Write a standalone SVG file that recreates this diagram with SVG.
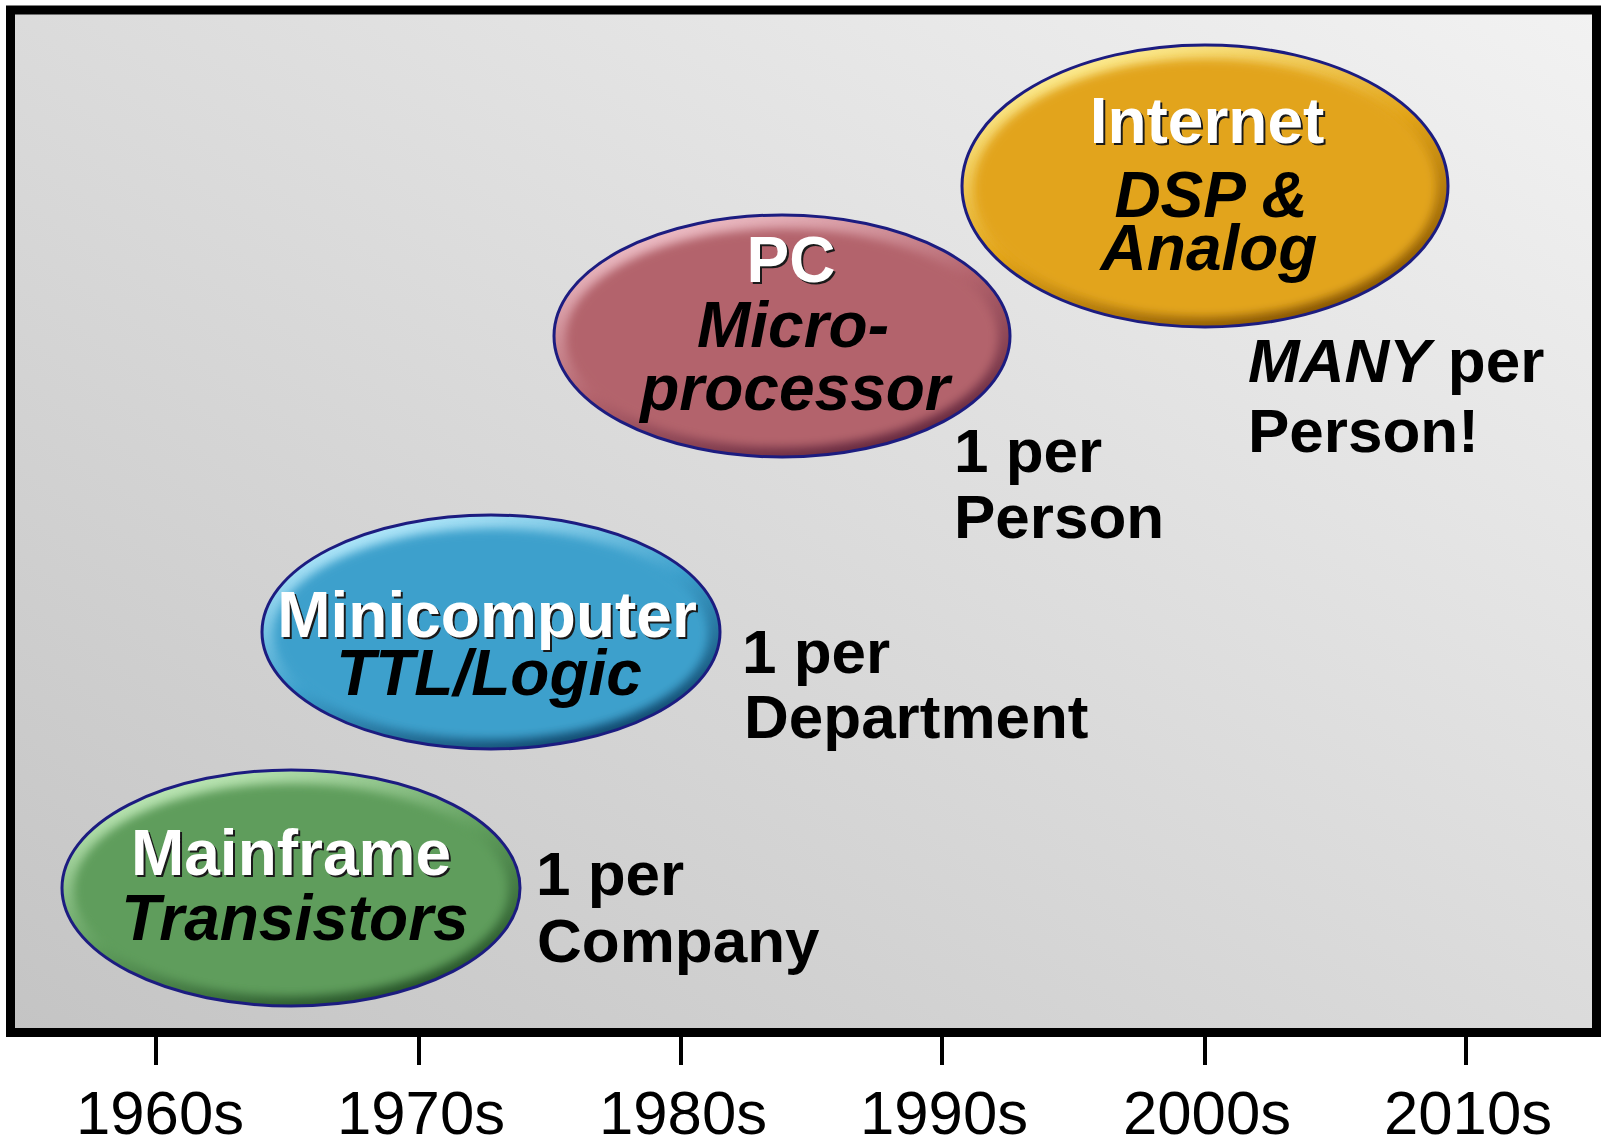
<svg xmlns="http://www.w3.org/2000/svg" width="1601" height="1148" viewBox="0 0 1601 1148">
  <defs>
    <linearGradient id="bg" x1="1" y1="0" x2="0" y2="1">
      <stop offset="0" stop-color="#f2f2f2"/>
      <stop offset="1" stop-color="#c4c4c4"/>
    </linearGradient>
    <linearGradient id="rimG" x1="0.2" y1="0" x2="0.8" y2="1">
      <stop offset="0" stop-color="#c8f0c0"/>
      <stop offset="0.5" stop-color="#5f9d5c"/>
      <stop offset="1" stop-color="#1f4a22"/>
    </linearGradient>
    <linearGradient id="rimB" x1="0.2" y1="0" x2="0.8" y2="1">
      <stop offset="0" stop-color="#c0f0ff"/>
      <stop offset="0.5" stop-color="#3da0cc"/>
      <stop offset="1" stop-color="#0a3c60"/>
    </linearGradient>
    <linearGradient id="rimR" x1="0.2" y1="0" x2="0.8" y2="1">
      <stop offset="0" stop-color="#f4c8d0"/>
      <stop offset="0.5" stop-color="#b3636c"/>
      <stop offset="1" stop-color="#5a2038"/>
    </linearGradient>
    <linearGradient id="rimO" x1="0.2" y1="0" x2="0.8" y2="1">
      <stop offset="0" stop-color="#fff4a0"/>
      <stop offset="0.5" stop-color="#e2a41a"/>
      <stop offset="1" stop-color="#7a4a00"/>
    </linearGradient>
    <filter id="soft" x="-10%" y="-10%" width="120%" height="120%">
      <feGaussianBlur stdDeviation="5"/>
    </filter>
  </defs>
  <style>
    .wt { font-family: "Liberation Sans", Arial, sans-serif; font-weight: bold; font-size: 64px; fill: #ffffff; text-anchor: middle; }
    .sh { font-family: "Liberation Sans", Arial, sans-serif; font-weight: bold; font-size: 64px; fill: #1a1a1a; text-anchor: middle; }
    .bi { font-family: "Liberation Sans", Arial, sans-serif; font-weight: bold; font-style: italic; font-size: 64px; fill: #000000; text-anchor: middle; }
    .lbl { font-family: "Liberation Sans", Arial, sans-serif; font-weight: bold; font-size: 62px; fill: #000000; }
    .yr { font-family: "Liberation Sans", Arial, sans-serif; font-size: 61px; fill: #000000; text-anchor: middle; }
    .outline { fill: none; stroke: #1c1c80; stroke-width: 3; }
    .tick { stroke: #000000; stroke-width: 4; }
  </style>

  <rect x="0" y="0" width="1601" height="1148" fill="#ffffff"/>

  <g id="frame">
    <rect x="10.5" y="10" width="1586" height="1022.5" fill="url(#bg)" stroke="#000000" stroke-width="9"/>
  </g>

  <g id="axis">
    <line class="tick" x1="156" y1="1036" x2="156" y2="1065"/>
    <line class="tick" x1="419" y1="1036" x2="419" y2="1065"/>
    <line class="tick" x1="681" y1="1036" x2="681" y2="1065"/>
    <line class="tick" x1="942" y1="1036" x2="942" y2="1065"/>
    <line class="tick" x1="1205" y1="1036" x2="1205" y2="1065"/>
    <line class="tick" x1="1466" y1="1036" x2="1466" y2="1065"/>
    <text class="yr" x="160" y="1134" textLength="168" lengthAdjust="spacingAndGlyphs">1960s</text>
    <text class="yr" x="421" y="1134" textLength="168" lengthAdjust="spacingAndGlyphs">1970s</text>
    <text class="yr" x="683" y="1134" textLength="168" lengthAdjust="spacingAndGlyphs">1980s</text>
    <text class="yr" x="944" y="1134" textLength="168" lengthAdjust="spacingAndGlyphs">1990s</text>
    <text class="yr" x="1207" y="1134" textLength="168" lengthAdjust="spacingAndGlyphs">2000s</text>
    <text class="yr" x="1468" y="1134" textLength="168" lengthAdjust="spacingAndGlyphs">2010s</text>
  </g>

  <g id="connectors"></g>

  <g id="mainframe">
    <ellipse cx="291" cy="888" rx="229" ry="118" fill="url(#rimG)"/>
    <ellipse cx="291" cy="890" rx="217" ry="106" fill="#5f9d5c" filter="url(#soft)"/>
    <ellipse class="outline" cx="291" cy="888" rx="229" ry="118"/>
    <text class="sh" x="293" y="877">Mainframe</text>
    <text class="wt" x="291" y="875">Mainframe</text>
    <text class="bi" x="295" y="940">Transistors</text>
  </g>

  <g id="minicomputer">
    <ellipse cx="491" cy="632" rx="229" ry="117" fill="url(#rimB)"/>
    <ellipse cx="491" cy="634" rx="217" ry="105" fill="#3da0cc" filter="url(#soft)"/>
    <ellipse class="outline" cx="491" cy="632" rx="229" ry="117"/>
    <text class="sh" x="489" y="639">Minicomputer</text>
    <text class="wt" x="487" y="637">Minicomputer</text>
    <text class="bi" x="489" y="695">TTL/Logic</text>
  </g>

  <g id="pc">
    <ellipse cx="782" cy="336" rx="228" ry="121" fill="url(#rimR)"/>
    <ellipse cx="782" cy="338" rx="216" ry="109" fill="#b3636c" filter="url(#soft)"/>
    <ellipse class="outline" cx="782" cy="336" rx="228" ry="121"/>
    <text class="sh" x="793" y="284">PC</text>
    <text class="wt" x="791" y="282">PC</text>
    <text class="bi" x="793" y="347">Micro-</text>
    <text class="bi" x="795" y="410">processor</text>
  </g>

  <g id="internet">
    <ellipse cx="1205" cy="186" rx="243" ry="141" fill="url(#rimO)"/>
    <ellipse cx="1205" cy="188" rx="231" ry="129" fill="#e2a41a" filter="url(#soft)"/>
    <ellipse class="outline" cx="1205" cy="186" rx="243" ry="141"/>
    <text class="sh" x="1209" y="145">Internet</text>
    <text class="wt" x="1207" y="143">Internet</text>
    <text class="bi" x="1211" y="217">DSP &amp;</text>
    <text class="bi" x="1209" y="270">Analog</text>
  </g>

  <g id="labels">
    <text class="lbl" x="536" y="895">1 per</text>
    <text class="lbl" x="537" y="962">Company</text>
    <text class="lbl" x="742" y="673">1 per</text>
    <text class="lbl" x="744" y="738">Department</text>
    <text class="lbl" x="954" y="472">1 per</text>
    <text class="lbl" x="954" y="538">Person</text>
    <text class="lbl" x="1248" y="382"><tspan font-style="italic">MANY</tspan> per</text>
    <text class="lbl" x="1248" y="452">Person!</text>
  </g>
</svg>
